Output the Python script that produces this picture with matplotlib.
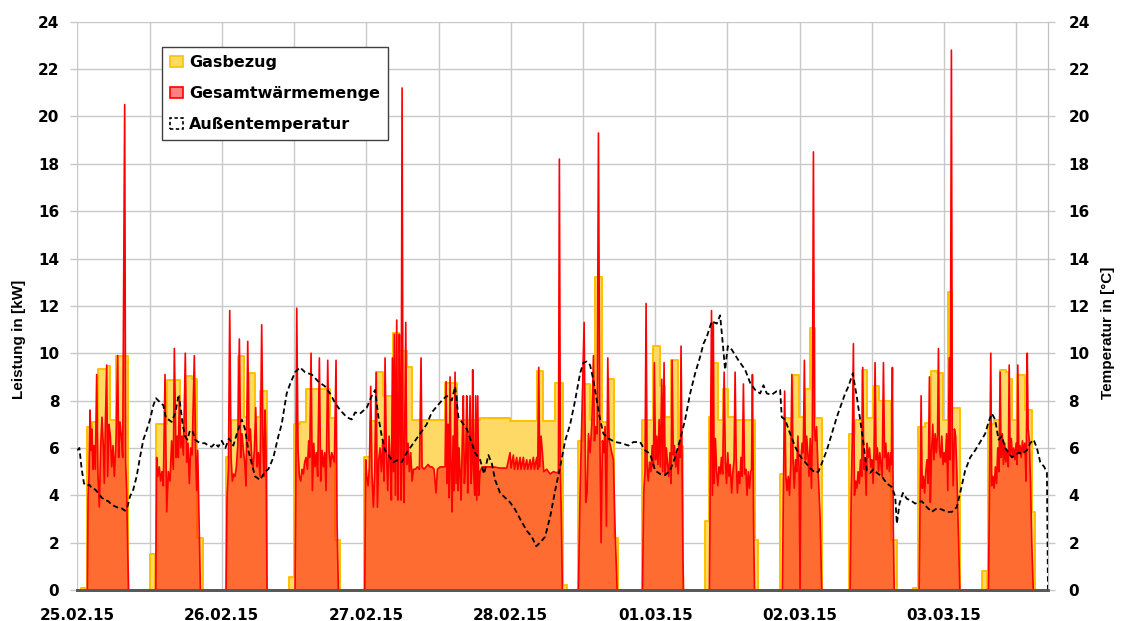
import matplotlib
matplotlib.use("Agg")
import matplotlib.pyplot as plt
from matplotlib.patches import Patch

# ---------------- data (hours since 25.02.15 00:00) ----------------
date_labels = ["25.02.15", "26.02.15", "27.02.15", "28.02.15",
               "01.03.15", "02.03.15", "03.03.15"]
y_ticks = list(range(0, 25, 2))
x_end_hours = 161.2

# Gasbezug: step values (start hour, kW)
gas_steps = [
    (0, 0), (0.6, 0.1), (1.45, 0), (1.6, 6.9), (2.4, 7.1), (3.5, 9.35), (4.85, 9.45),
    (5.45, 7.2), (6.4, 9.9), (8.5, 0),
    (12.08, 1.5), (12.91, 0), (13.07, 7.0), (14.85, 8.85), (17.06, 7.2), (17.9, 9.05),
    (19.0, 8.9), (19.94, 2.2), (20.93, 0),
    (24.7, 5.6), (25.54, 7.2), (26.65, 9.9), (27.70, 7.3), (28.58, 9.15), (29.52, 7.3),
    (30.41, 8.4), (31.46, 0),
    (35.17, 0.55), (36.06, 7.0), (37.0, 7.1), (37.94, 8.5), (41.98, 7.25), (42.82, 2.1),
    (43.6, 0),
    (47.63, 5.6), (48.63, 7.15), (49.74, 9.2), (50.85, 8.2), (52.51, 10.85), (53.50, 10.1),
    (54.72, 9.4), (55.55, 7.2), (61.09, 8.75), (63.03, 7.2), (66.9, 7.25), (71.89, 7.15),
    (76.32, 9.25), (77.42, 7.15), (79.36, 8.75), (80.6, 0.2), (81.3, 0),
    (83.13, 6.3), (84.08, 8.7), (85.18, 7.2), (86.01, 13.2), (87.12, 7.1), (88.23, 8.9),
    (89.22, 2.2), (89.89, 0),
    (93.77, 7.2), (95.70, 10.3), (96.81, 8.6), (97.64, 7.3), (98.64, 9.7), (99.75, 6.1),
    (100.69, 0),
    (104.29, 2.9), (105.0, 7.3), (105.67, 9.6), (106.39, 7.2), (107.2, 8.5), (108.16, 7.3),
    (109.27, 7.2), (112.59, 2.1), (113.04, 0),
    (116.74, 4.9), (117.41, 7.25), (118.85, 9.1), (119.95, 7.3), (120.90, 8.5),
    (121.73, 11.05), (122.56, 7.25), (123.66, 0),
    (128.26, 6.6), (129.2, 7.2), (130.31, 9.3), (131.25, 7.25), (132.25, 8.6),
    (133.19, 8.0), (135.13, 2.1), (136.12, 0),
    (138.89, 0.07), (139.73, 6.9), (140.83, 7.05), (141.77, 9.25), (142.77, 9.15),
    (143.77, 7.2), (144.71, 12.6), (145.26, 7.7), (146.65, 0),
    (150.36, 0.8), (151.19, 0), (151.35, 7.0), (152.2, 7.2), (153.29, 9.3), (154.2, 9.2),
    (154.8, 8.9), (155.3, 7.2), (156.06, 9.1), (157.44, 7.6), (158.6, 3.3), (159.11, 0),
    (161.2, 0),
]

# Gesamtwärmemenge: (hour, kW) per heating period
heat_b01 = [(1.67, 0), (1.78, 3.9), (1.94, 4.8), (2.11, 7.6), (2.28, 5.9), (2.44, 6.8),
            (2.61, 5.1), (2.77, 6.1), (2.99, 5.1), (3.22, 9.1), (3.44, 4.8), (3.66, 3.5),
            (3.88, 6.1), (4.10, 7.3), (4.32, 6.1), (4.49, 4.5), (4.66, 7.0), (4.88, 9.5),
            (5.04, 4.8), (5.27, 7.0), (5.49, 6.5), (5.71, 5.2), (5.93, 6.1), (6.15, 4.8),
            (6.43, 6.3), (6.71, 9.9), (6.87, 5.6), (7.09, 7.1), (7.31, 6.5), (7.54, 5.6),
            (7.87, 20.5), (8.03, 5.4), (8.20, 4.2), (8.37, 1.7), (8.53, 0)]
heat_b02 = [(13.02, 0), (13.18, 5.6), (13.40, 4.8), (13.62, 5.2), (13.84, 4.6), (14.07, 5.0),
            (14.29, 4.4), (14.57, 9.1), (14.85, 3.3), (15.12, 5.0), (15.40, 4.6), (15.67, 6.3),
            (15.95, 5.1), (16.12, 10.2), (16.40, 5.6), (16.62, 6.5), (16.78, 5.6), (16.95, 8.2),
            (17.17, 6.0), (17.40, 6.5), (17.62, 5.7), (17.94, 10.0), (18.17, 5.4), (18.39, 6.2),
            (18.61, 4.5), (18.83, 6.0), (19.06, 5.7), (19.44, 9.9), (19.66, 5.8), (19.83, 4.2),
            (20.0, 5.9), (20.45, 0)]
heat_b03 = [(24.71, 0), (24.87, 3.9), (25.1, 5.1), (25.32, 11.8), (25.54, 5.6), (25.76, 4.6),
            (25.98, 4.9), (26.2, 4.8), (26.42, 5.2), (26.65, 6.1), (26.92, 10.6), (27.14, 5.6),
            (27.36, 6.6), (27.59, 5.9), (27.81, 5.4), (28.03, 4.4), (28.31, 10.5), (28.53, 6.3),
            (28.75, 6.8), (28.97, 5.6), (29.19, 5.2), (29.41, 5.9), (29.64, 7.7), (29.86, 5.2),
            (30.08, 5.8), (30.36, 4.8), (30.63, 11.2), (30.85, 6.1), (31.02, 4.8), (31.19, 7.6),
            (31.35, 5.9), (31.52, 0)]
heat_b04 = [(36.17, 0), (36.28, 3.9), (36.45, 11.9), (36.67, 5.9), (36.89, 4.8), (37.11, 4.6),
            (37.33, 5.1), (37.55, 4.9), (37.77, 5.4), (38.0, 5.6), (38.22, 5.1), (38.44, 6.3),
            (38.61, 5.6), (38.83, 10.0), (39.05, 4.2), (39.27, 6.2), (39.49, 5.2), (39.71, 5.8),
            (39.93, 4.8), (40.21, 9.8), (40.43, 4.6), (40.65, 5.9), (40.88, 5.2), (41.1, 5.8),
            (41.32, 4.2), (41.6, 9.7), (41.82, 5.9), (42.04, 5.2), (42.26, 5.8), (42.48, 5.6),
            (42.7, 5.4), (42.98, 9.7), (43.15, 2.8), (43.37, 0)]
heat_b05 = [(47.75, 0), (47.91, 5.5), (48.08, 4.8), (48.30, 4.4), (48.52, 5.2), (48.74, 8.6),
            (48.96, 4.8), (49.18, 3.5), (49.41, 5.0), (49.63, 9.2), (49.85, 3.5), (50.07, 5.5),
            (50.29, 6.0), (50.51, 5.0), (50.74, 6.3), (50.96, 4.6), (51.12, 9.8), (51.34, 5.8),
            (51.57, 4.2), (51.79, 6.5), (52.01, 5.3), (52.17, 3.8), (52.34, 9.8), (52.51, 5.0),
            (52.67, 10.8), (52.84, 4.0), (53.06, 11.4), (53.23, 3.8), (53.39, 7.5), (53.50, 10.8),
            (53.67, 5.5), (53.78, 3.8), (53.95, 21.2), (54.11, 5.5), (54.28, 3.7), (54.56, 11.3),
            (54.72, 5.3), (54.94, 6.2), (55.16, 5.0), (55.39, 5.8), (55.61, 4.6), (55.83, 5.1),
            (56.16, 5.1), (56.49, 5.2), (56.83, 5.1), (57.10, 9.8), (57.27, 5.2), (57.60, 5.1),
            (57.93, 5.2), (58.27, 5.3), (58.60, 5.2), (58.93, 5.2), (59.26, 5.1), (59.59, 4.1),
            (59.82, 5.1), (60.26, 5.2), (60.59, 5.2), (60.92, 5.2),
            (61.09, 5.2), (61.26, 8.8), (61.42, 4.5), (61.59, 7.0), (61.75, 3.9), (61.92, 9.0),
            (62.09, 5.0), (62.25, 3.3), (62.42, 6.5), (62.58, 4.2), (62.75, 9.2), (62.92, 4.5),
            (63.08, 8.2), (63.25, 4.2), (63.41, 6.0), (63.58, 5.0), (63.75, 3.8), (63.97, 6.5),
            (64.13, 8.2), (64.30, 4.5), (64.52, 5.5), (64.69, 8.2), (64.85, 4.1), (65.02, 5.8),
            (65.24, 8.2), (65.41, 4.5), (65.57, 5.5), (65.68, 9.3), (65.85, 5.0), (66.02, 4.0),
            (66.18, 8.2), (66.35, 3.8), (66.52, 8.2), (66.68, 4.0), (66.90, 5.0),
            (67.24, 5.2), (68.01, 5.2), (69.12, 5.2), (70.23, 5.15), (71.33, 5.15), (71.89, 5.8),
            (72.05, 5.15), (72.44, 5.7), (72.61, 5.1), (72.99, 5.6), (73.16, 5.1), (73.55, 5.6),
            (73.71, 5.1), (74.10, 5.6), (74.27, 5.1), (74.66, 5.5), (74.82, 5.1), (75.21, 5.5),
            (75.38, 5.1), (75.76, 5.6), (75.93, 5.1), (76.32, 5.6), (76.48, 5.1), (76.65, 9.4),
            (76.81, 5.2), (77.04, 6.5), (77.26, 5.8), (77.48, 5.0), (77.98, 5.1), (78.53, 4.9),
            (79.09, 5.0), (79.64, 4.95), (79.92, 5.0), (80.08, 18.2), (80.25, 5.0), (80.41, 3.0),
            (80.58, 0)]
heat_b06 = [(83.24, 0), (83.52, 4.2), (84.19, 11.3), (84.46, 3.7), (84.68, 4.1), (84.91, 6.6),
            (85.18, 5.8), (85.46, 7.0), (85.74, 9.9), (85.90, 6.3), (86.12, 6.9), (86.35, 6.6),
            (86.57, 19.3), (86.79, 6.9), (87.01, 2.0), (87.23, 6.3), (87.45, 5.8), (87.67, 6.9),
            (87.90, 2.7), (88.12, 9.8), (88.34, 6.3), (88.56, 6.1), (88.78, 5.8), (89.06, 5.5),
            (89.34, 2.5), (89.67, 0)]
heat_b07 = [(93.88, 0), (94.1, 4.2), (94.3, 5.0), (94.48, 12.1), (94.65, 5.2), (94.85, 4.6),
            (95.05, 5.4), (95.3, 5.0), (95.5, 6.1), (95.7, 5.2), (95.86, 9.6), (96.05, 5.5),
            (96.25, 6.5), (96.45, 5.3), (96.65, 7.2), (96.85, 5.2), (97.08, 8.9), (97.25, 5.0),
            (97.47, 9.6), (97.65, 4.9), (97.85, 6.0), (98.05, 5.3), (98.25, 4.8), (98.45, 5.8),
            (98.62, 4.5), (98.8, 9.7), (99.0, 5.7), (99.2, 6.1), (99.4, 5.2), (99.6, 5.8),
            (99.8, 4.9), (100.0, 6.2), (100.15, 5.6), (100.29, 10.3), (100.45, 5.5),
            (100.6, 1.5), (100.7, 0)]
heat_b08 = [(105.0, 0), (105.15, 5.0), (105.35, 11.8), (105.5, 4.0), (105.65, 11.3),
            (105.8, 4.5), (106.0, 6.4), (106.2, 5.0), (106.4, 4.4), (106.6, 5.2), (106.8, 4.9),
            (107.0, 5.6), (107.2, 4.9), (107.45, 9.2), (107.65, 5.5), (107.85, 4.5), (108.05, 5.8),
            (108.25, 4.8), (108.45, 5.3), (108.7, 4.1), (108.9, 5.0), (109.1, 5.5), (109.27, 9.2),
            (109.45, 5.6), (109.65, 4.1), (109.85, 5.0), (110.05, 4.5), (110.25, 5.6),
            (110.45, 4.8), (110.65, 8.7), (110.85, 4.9), (111.05, 5.1), (111.25, 4.0),
            (111.45, 5.0), (111.65, 4.3), (111.85, 5.0), (112.0, 5.1), (112.15, 9.1),
            (112.35, 2.5), (112.5, 0)]
heat_b09 = [(117.13, 0), (117.3, 4.5), (117.5, 8.4), (117.7, 4.8), (117.9, 4.2), (118.1, 4.8),
            (118.3, 4.0), (118.5, 5.2), (118.7, 9.1), (118.9, 5.5), (119.1, 4.3), (119.3, 5.5),
            (119.5, 5.0), (119.7, 6.5), (119.9, 5.1), (120.06, 0), (120.2, 5.5), (120.4, 6.2),
            (120.6, 5.8), (120.78, 9.7), (120.95, 5.5), (121.15, 6.5), (121.35, 5.8),
            (121.55, 4.8), (121.75, 6.4), (121.95, 4.3), (122.1, 6.6), (122.28, 18.5),
            (122.45, 6.8), (122.6, 6.3), (122.8, 6.9), (123.0, 5.4), (123.2, 4.2), (123.4, 3.0),
            (123.66, 0)]
heat_b10 = [(128.37, 0), (128.55, 4.0), (128.75, 6.5), (128.92, 10.4), (129.1, 4.0),
            (129.3, 4.6), (129.5, 4.3), (129.7, 5.0), (129.9, 4.5), (130.1, 5.5), (130.3, 4.8),
            (130.47, 9.4), (130.65, 5.1), (130.85, 5.5), (131.05, 4.0), (131.2, 6.2),
            (131.4, 5.6), (131.6, 6.0), (131.8, 5.2), (132.0, 5.5), (132.2, 4.5), (132.35, 5.8),
            (132.52, 9.6), (132.7, 5.5), (132.9, 6.0), (133.1, 5.0), (133.3, 5.8), (133.5, 5.3),
            (133.7, 4.8), (133.91, 9.6), (134.1, 5.6), (134.3, 6.2), (134.5, 5.1), (134.7, 5.8),
            (134.9, 5.0), (135.1, 5.8), (135.25, 5.3), (135.4, 9.4), (135.55, 2.5), (135.7, 0)]
heat_b11 = [(139.84, 0), (140.0, 4.0), (140.17, 8.2), (140.35, 4.3), (140.55, 4.8),
            (140.75, 4.1), (140.95, 5.0), (141.15, 5.5), (141.35, 4.5), (141.55, 9.0),
            (141.7, 3.7), (141.9, 5.8), (142.1, 7.0), (142.3, 5.5), (142.5, 6.6), (142.7, 5.8),
            (142.9, 6.6), (143.05, 10.2), (143.2, 6.0), (143.4, 5.6), (143.6, 6.5), (143.8, 5.3),
            (144.0, 5.8), (144.2, 5.4), (144.4, 6.6), (144.6, 4.2), (144.85, 9.8), (145.0, 5.5),
            (145.2, 22.8), (145.35, 6.3), (145.5, 4.4), (145.7, 6.8), (145.9, 6.5), (146.1, 5.0),
            (146.3, 3.0), (146.6, 0)]
heat_b12 = [(151.35, 0), (151.5, 3.5), (151.74, 10.0), (151.9, 4.4), (152.1, 4.8),
            (152.3, 4.3), (152.5, 5.2), (152.7, 4.5), (152.9, 6.0), (153.1, 5.0), (153.3, 9.2),
            (153.45, 5.6), (153.65, 6.6), (153.85, 5.3), (154.05, 6.2), (154.25, 5.4),
            (154.45, 5.9), (154.65, 5.2), (154.8, 9.5), (154.95, 5.7), (155.15, 6.4),
            (155.35, 5.6), (155.55, 6.0), (155.75, 5.5), (155.95, 6.2), (156.1, 5.3),
            (156.23, 9.5), (156.4, 5.8), (156.6, 6.1), (156.8, 5.6), (157.0, 6.3), (157.2, 5.8),
            (157.4, 6.2), (157.6, 4.6), (157.8, 10.0), (157.95, 6.8), (158.15, 6.3),
            (158.35, 4.5), (158.55, 2.0), (158.8, 0)]
heat_blocks = [heat_b01, heat_b02, heat_b03, heat_b04, heat_b05, heat_b06,
               heat_b07, heat_b08, heat_b09, heat_b10, heat_b11, heat_b12]

# Außentemperatur: (hour, °C)
temp_points = [
    (0.0, 5.9), (0.34, 6.0), (0.73, 5.1), (1.11, 4.5), (1.56, 4.4), (2.0, 4.45), (2.39, 4.3),
    (2.94, 4.25), (3.49, 4.1), (4.05, 3.9), (4.6, 3.8), (5.15, 3.75), (5.71, 3.6), (6.54, 3.5),
    (7.37, 3.45), (7.92, 3.35), (8.31, 3.5), (8.75, 3.95), (9.31, 4.25), (9.86, 4.8),
    (10.41, 5.6), (10.97, 6.35), (11.52, 6.75), (12.08, 7.2), (12.63, 7.8), (13.07, 8.1),
    (13.46, 8.0), (13.85, 7.9), (14.29, 7.8), (14.73, 7.25), (15.12, 7.2), (15.67, 7.1),
    (16.23, 7.45), (16.78, 8.15), (17.06, 7.9), (17.5, 7.0), (17.89, 6.5), (18.28, 6.35),
    (18.72, 6.75), (19.16, 6.7), (19.55, 6.35), (20.1, 6.25), (20.66, 6.2), (21.21, 6.2),
    (21.77, 6.1), (22.32, 6.05), (22.88, 6.2), (23.42, 6.05), (24.0, 6.3), (24.6, 6.0),
    (25.2, 6.4), (25.92, 6.1), (26.5, 6.6), (27.31, 7.2), (27.86, 6.8), (28.41, 5.9),
    (28.97, 5.35), (29.52, 4.8), (30.35, 4.65), (31.18, 5.0), (31.74, 5.1), (32.57, 5.6),
    (33.40, 6.5), (33.95, 7.0), (34.78, 8.3), (35.34, 8.7), (36.17, 9.2), (37.00, 9.4),
    (37.83, 9.2), (38.94, 9.1), (40.05, 8.8), (41.15, 8.6), (41.99, 8.3), (42.82, 7.9),
    (43.65, 7.6), (44.76, 7.3), (45.59, 7.2), (46.14, 7.5), (46.97, 7.45), (48.08, 7.7),
    (48.91, 8.2), (49.46, 8.45), (50.02, 7.3), (50.57, 6.5), (51.12, 5.9), (51.96, 5.6),
    (52.51, 5.4), (53.34, 5.5), (53.89, 5.4), (54.72, 5.8), (55.83, 6.2), (56.94, 6.6),
    (58.04, 7.0), (58.88, 7.5), (59.71, 7.75), (60.54, 8.0), (61.37, 8.2), (62.20, 8.0),
    (62.76, 8.6), (63.31, 7.3), (63.87, 7.1), (64.70, 6.8), (65.53, 6.2), (66.08, 5.8),
    (66.91, 5.5), (67.57, 4.9), (68.29, 5.7), (68.85, 5.35), (69.40, 4.65), (70.23, 4.1),
    (71.06, 3.9), (71.89, 3.7), (72.73, 3.4), (73.56, 3.0), (74.67, 2.5), (75.50, 2.25),
    (76.22, 1.85), (76.88, 2.0), (77.71, 2.25), (78.55, 3.1), (79.38, 4.2), (80.21, 5.2),
    (81.04, 6.3), (81.87, 7.0), (82.69, 8.0), (83.52, 9.15), (84.07, 9.6), (84.63, 9.65),
    (85.18, 9.5), (85.74, 8.85), (86.29, 8.0), (86.84, 7.2), (87.40, 6.6), (88.23, 6.4),
    (89.33, 6.25), (90.44, 6.2), (91.55, 6.1), (92.38, 6.25), (93.49, 6.25), (94.32, 5.9),
    (95.15, 5.75), (95.98, 5.05), (96.81, 4.9), (97.64, 4.85), (98.47, 5.05), (99.30, 5.6),
    (100.13, 6.35), (100.97, 7.2), (101.80, 8.3), (102.63, 9.15), (103.46, 9.85),
    (104.01, 10.4), (104.57, 10.7), (105.40, 11.35), (106.23, 11.25), (106.78, 11.6),
    (107.17, 10.55), (107.61, 9.3), (108.06, 10.3), (108.72, 10.15), (109.83, 9.7),
    (110.94, 9.3), (111.77, 8.75), (112.60, 8.45), (113.43, 8.3), (113.98, 8.65),
    (114.53, 8.3), (115.36, 8.25), (116.19, 8.4), (116.75, 8.45), (117.02, 7.3),
    (117.58, 7.2), (118.41, 6.6), (119.24, 6.05), (120.07, 5.65), (120.90, 5.4),
    (121.73, 5.15), (122.56, 4.95), (123.12, 5.0), (123.67, 5.35), (124.50, 5.9),
    (125.33, 6.6), (126.16, 7.3), (126.99, 7.9), (127.55, 8.3), (128.10, 8.6),
    (128.82, 9.15), (129.49, 8.15), (130.04, 7.2), (130.59, 6.2), (131.15, 5.05),
    (131.70, 4.95), (132.26, 5.1), (132.81, 4.95), (133.64, 4.8), (134.47, 4.5),
    (135.30, 4.35), (135.86, 3.95), (136.14, 2.8), (136.58, 3.65), (137.14, 4.1),
    (137.80, 3.85), (138.36, 3.8), (139.18, 3.65), (140.29, 3.75), (141.12, 3.5),
    (141.95, 3.3), (142.78, 3.45), (143.61, 3.4), (144.44, 3.3), (145.27, 3.3),
    (146.10, 3.5), (146.65, 4.1), (147.49, 5.05), (148.32, 5.6), (149.15, 5.9),
    (149.98, 6.25), (150.81, 6.6), (151.37, 7.1), (151.92, 7.45), (152.47, 7.2),
    (153.03, 6.35), (153.58, 6.5), (154.14, 6.0), (154.69, 5.8), (155.25, 5.6),
    (155.80, 5.7), (156.36, 5.8), (156.91, 5.75), (157.74, 5.9), (158.29, 6.2),
    (158.85, 6.35), (159.40, 6.0), (159.96, 5.4), (160.62, 5.2), (161.07, 4.95),
    (161.24, 0),
]

legend_labels = ["Gasbezug", "Gesamtwärmemenge", "Außentemperatur"]

# ---------------- styling ----------------
plt.rcParams["font.family"] = ["DejaVu Sans"]
plt.rcParams["font.weight"] = "bold"

GAS_FILL = "#FFD966"
GAS_EDGE = "#FFC000"
GRID = "#C8C8C8"
AXIS_DARK = "#595959"

fig = plt.figure(figsize=(11.22, 6.21), dpi=100)
ax = fig.add_axes([0.0689, 0.0499, 0.8649, 0.9151])
ax2 = ax.twinx()

gas_t = [p[0] for p in gas_steps]
gas_v = [p[1] for p in gas_steps]
ax.fill_between(gas_t, gas_v, step="post", facecolor=GAS_FILL, lw=0, zorder=2)
ax.step(gas_t, gas_v, where="post", color=GAS_EDGE, lw=1.4, zorder=3)

heat = [p for blk in heat_blocks for p in blk]
heat_t = [p[0] for p in heat]
heat_v = [p[1] for p in heat]
ax.fill_between(heat_t, heat_v, facecolor=(1, 0, 0, 0.5), lw=0, zorder=4)
ax.plot(heat_t, heat_v, color="#FF0000", lw=1.2, zorder=5)

temp_t = [p[0] for p in temp_points]
temp_v = [p[1] for p in temp_points]
ax2.plot(temp_t, temp_v, color="black", lw=1.3, ls=(0, (3, 1.8)), zorder=6)

for a in (ax, ax2):
    a.set_xlim(0, x_end_hours)
    a.set_ylim(0, 24)
    a.set_yticks(y_ticks)
    a.spines["top"].set_visible(False)
    a.spines["left"].set_visible(False)
    a.spines["right"].set_color("#BFBFBF")
    a.spines["bottom"].set_color(AXIS_DARK)
    a.spines["bottom"].set_linewidth(2.0)
    a.spines["bottom"].set_zorder(10)

ax.set_xticks([24 * i for i in range(len(date_labels))])
ax.set_xticklabels(date_labels)
ax.set_xticks([12 + 24 * i for i in range(7)], minor=True)
ax.grid(True, which="both", axis="x", color=GRID, lw=1.0)
ax.grid(True, which="major", axis="y", color=GRID, lw=1.0)
ax.set_axisbelow(True)

ax.tick_params(axis="x", which="both", length=0, pad=13, labelsize=11)
ax.tick_params(axis="y", length=5, width=1, color=GRID, pad=8, labelsize=11)
ax2.tick_params(axis="y", length=5, width=1, color=GRID, pad=10, labelsize=11)

fig.text(19.5 / 1122, 1 - 339 / 621, "Leistung in [kW]", rotation=90, ha="center",
         va="center", fontsize=11, fontweight="bold", family="Liberation Sans")
fig.text(1108 / 1122, 1 - 333 / 621, "Temperatur in [°C]", rotation=90, ha="center",
         va="center", fontsize=11, fontweight="bold", family="Liberation Sans")

handles = [
    Patch(facecolor=GAS_FILL, edgecolor=GAS_EDGE, lw=1.2),
    Patch(facecolor=(1, 0.5, 0.5), edgecolor="#FF0000", lw=1.2),
    Patch(facecolor="none", edgecolor="black", lw=1.2, linestyle=(0, (2, 1.5))),
]
leg = ax2.legend(handles, legend_labels, loc="upper left", bbox_to_anchor=(0.0873, 0.9555),
                 borderaxespad=0, frameon=True, fancybox=False, edgecolor="#404040",
                 framealpha=1, fontsize=11.5, handlelength=0.8, handleheight=0.65,
                 handletextpad=0.4, labelspacing=1.0, borderpad=0.5)
leg.get_frame().set_linewidth(1.0)
leg.set_zorder(20)

fig.savefig("out.png", dpi=100)
